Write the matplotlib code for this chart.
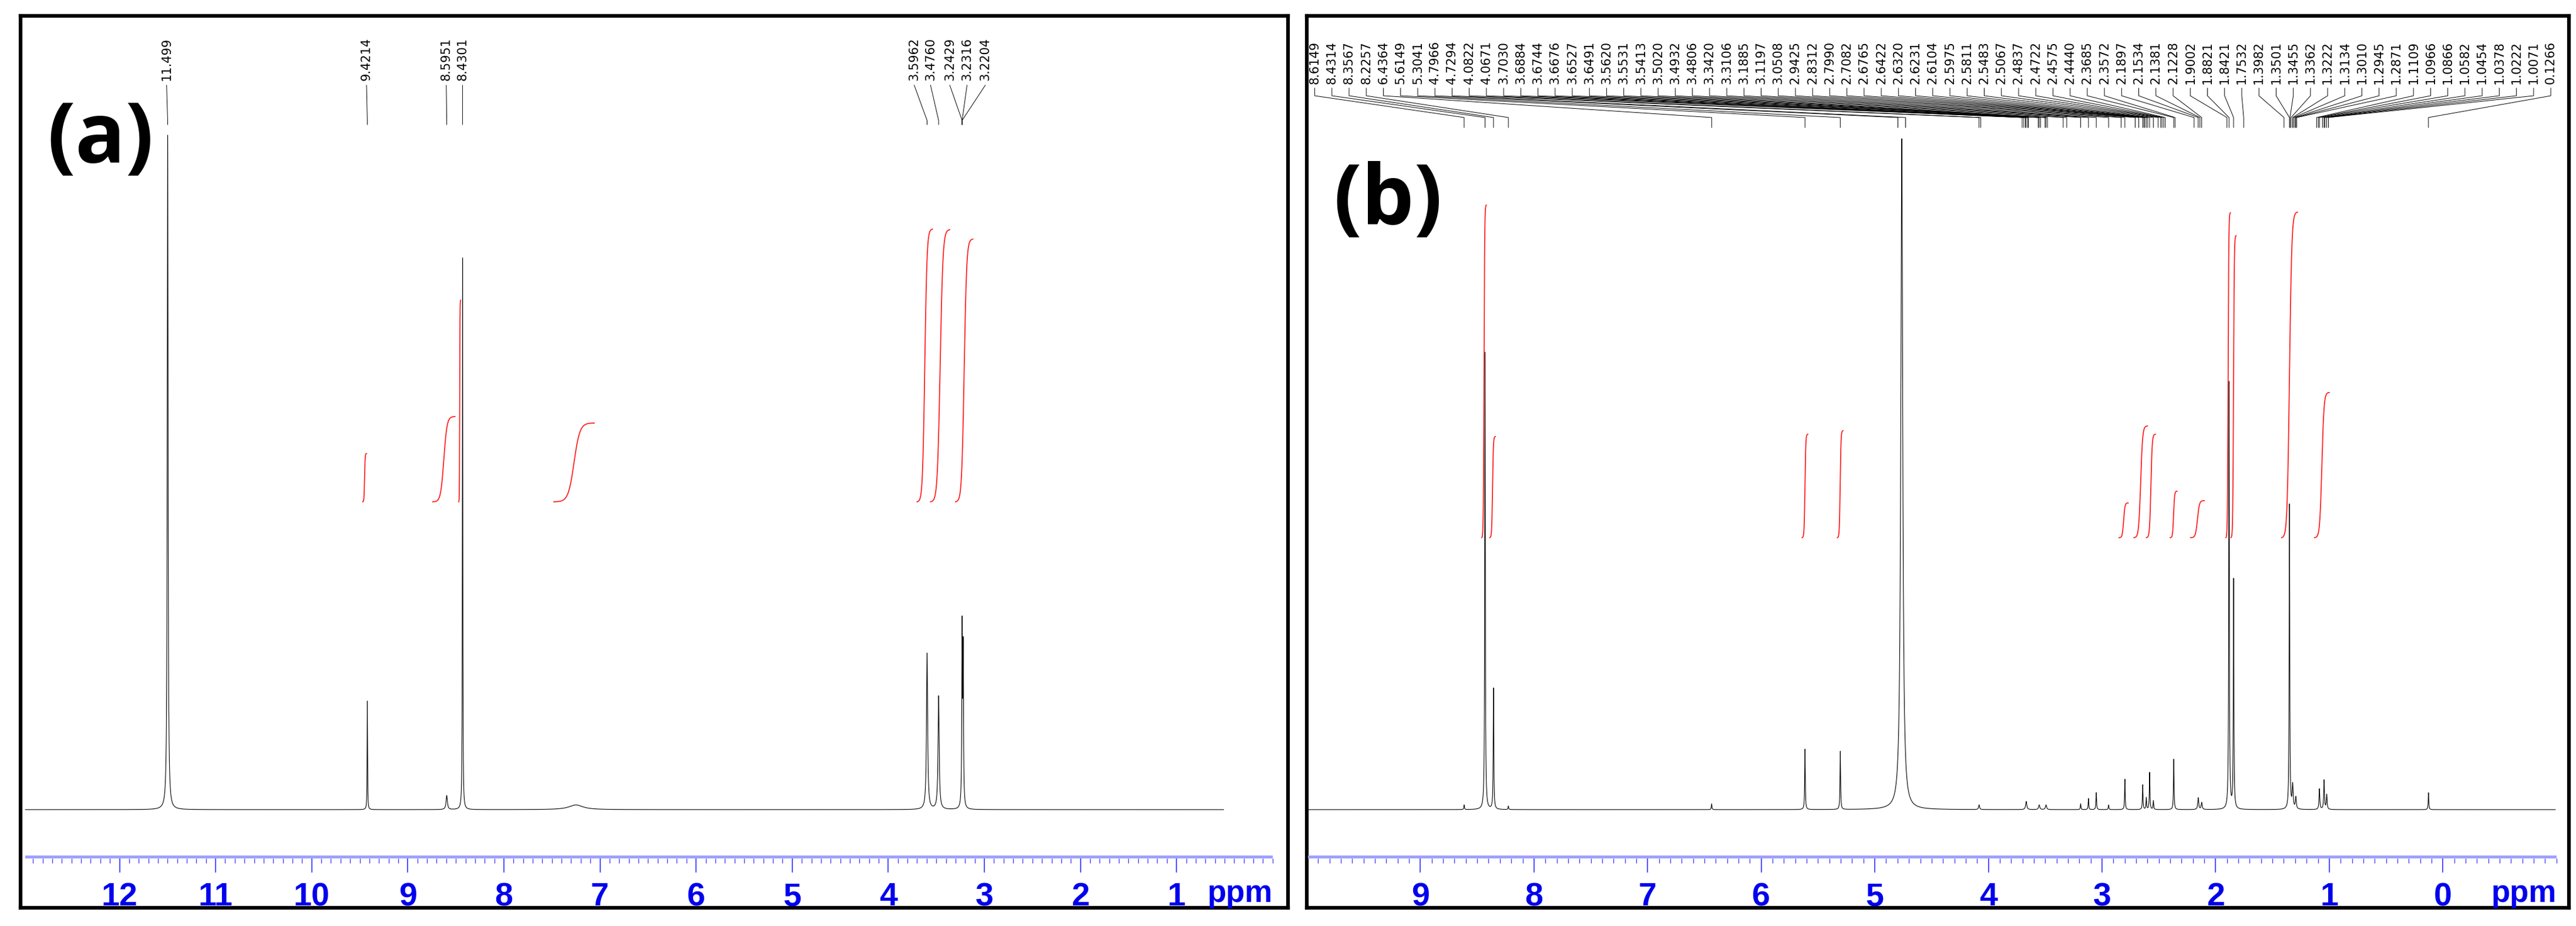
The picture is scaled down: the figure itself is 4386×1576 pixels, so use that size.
import numpy as np
import matplotlib
matplotlib.use("Agg")
import matplotlib.pyplot as plt
from matplotlib.ticker import FixedLocator, NullLocator

W, H = 4386, 1576
DPI = 100

# ---------------- data: panel (a) ----------------
a_peak_ppm = [11.499, 9.4214, 8.5951, 8.4301, 7.25, 3.5962, 3.4760, 3.2316, 3.2204]
a_peak_h   = [1148, 185, 24, 939, 8, 266, 193, 300, 260]
a_peak_w   = [0.005, 0.0025, 0.008, 0.0025, 0.09, 0.007, 0.007, 0.004, 0.004]
a_labels   = ["11.499", "9.4214", "8.5951", "8.4301", "3.5962", "3.4760", "3.2429", "3.2316", "3.2204"]
a_label_peak = [11.499, 9.4214, 8.5951, 8.4301, 3.5962, 3.4760, 3.2316, 3.2316, 3.2316]
a_label_pos  = [11.51, 9.43, 8.60, 8.43, 3.73, 3.56, 3.36, 3.18, 2.99]
a_int_start = [9.47, 8.74, 8.47, 7.48, 3.70, 3.56, 3.30]
a_int_end   = [9.43, 8.51, 8.45, 7.06, 3.54, 3.36, 3.12]
a_int_y0    = [524, 524, 524, 524, 524, 524, 524]
a_int_y1    = [606, 669, 867, 658, 988, 987, 971]

# ---------------- data: panel (b) ----------------
b_peak_ppm = [8.6149, 8.4314, 8.3567, 8.2257, 6.4364, 5.6149, 5.3041, 4.7630, 4.0822,
              3.6676, 3.5531, 3.4932, 3.1885, 3.1197, 3.0508, 2.9425, 2.7990, 2.6422,
              2.6104, 2.5811, 2.5483, 2.3685, 2.1534, 2.1228, 1.8821, 1.8421, 1.3501,
              1.3222, 1.2945, 1.0866, 1.0454, 1.0222, 0.1266]
b_peak_h   = [8, 778, 206, 6, 10, 103, 99, 1142, 8,
              14, 8, 8, 10, 19, 29, 8, 52, 42,
              20, 63, 15, 86, 20, 12, 727, 390, 519,
              40, 20, 35, 50, 25, 29]
b_peak_w   = [0.003, 0.003, 0.003, 0.003, 0.003, 0.003, 0.003, 0.010, 0.005,
              0.006, 0.006, 0.006, 0.003, 0.003, 0.003, 0.003, 0.003, 0.003,
              0.003, 0.003, 0.003, 0.003, 0.005, 0.005, 0.003, 0.003, 0.003,
              0.005, 0.005, 0.004, 0.004, 0.004, 0.003]
b_labels = ["8.6149", "8.4314", "8.3567", "8.2257", "6.4364", "5.6149", "5.3041", "4.7966",
            "4.7294", "4.0822", "4.0671", "3.7030", "3.6884", "3.6744", "3.6676", "3.6527",
            "3.6491", "3.5620", "3.5531", "3.5413", "3.5020", "3.4932", "3.4806", "3.3420",
            "3.3106", "3.1885", "3.1197", "3.0508", "2.9425", "2.8312", "2.7990", "2.7082",
            "2.6765", "2.6422", "2.6320", "2.6231", "2.6104", "2.5975", "2.5811", "2.5483",
            "2.5067", "2.4837", "2.4722", "2.4575", "2.4440", "2.3685", "2.3572", "2.1897",
            "2.1534", "2.1381", "2.1228", "1.9002", "1.8821", "1.8421", "1.7532", "1.3982",
            "1.3501", "1.3455", "1.3362", "1.3222", "1.3134", "1.3010", "1.2945", "1.2871",
            "1.1109", "1.0966", "1.0866", "1.0582", "1.0454", "1.0378", "1.0222", "1.0071",
            "0.1266"]
b_int_start = [8.46, 8.39, 5.64, 5.33, 2.85, 2.72, 2.61, 2.40, 2.22, 1.91, 1.865, 1.42, 1.13]
b_int_end   = [8.42, 8.34, 5.59, 5.28, 2.77, 2.60, 2.53, 2.34, 2.10, 1.87, 1.82, 1.28, 1.00]
b_int_y0    = [463, 463, 463, 463, 463, 463, 463, 463, 463, 463, 463, 463, 463]
b_int_y1    = [1029, 635, 639, 645, 522, 653, 639, 542, 526, 1016, 977, 1017, 710]

fig = plt.figure(figsize=(W / DPI, H / DPI), dpi=DPI)

def px_rect(x0, y0, x1, y1):
    return [x0 / W, 1 - y1 / H, (x1 - x0) / W, (y1 - y0) / H]

def spectrum(x, ppm, h, w):
    y = np.zeros_like(x)
    for p, hh, ww in zip(ppm, h, w):
        y += hh / (1 + ((x - p) / ww) ** 2)
    return y

def scurve(x0, x1, y0, y1):
    t = np.linspace(0, 1, 200)
    s = 0.5 + 0.5 * np.tanh((t - 0.5) * 7) / np.tanh(3.5)
    return x0 + (x1 - x0) * t, y0 + (y1 - y0) * s

RULER_FONT = ["Liberation Sans Narrow", "Liberation Sans", "DejaVu Sans"]

def panel(box, xlim, spec_range, ppm, h, w, ints, labels, label_pos, label_peak,
          letter, letter_xy, ruler_range, ticks, fan):
    x0, y0, x1, y1 = box
    base = 1378
    ax = fig.add_axes(px_rect(x0, y0, x1, y1))
    ax.set_xlim(*xlim)
    ax.set_ylim(-(y1 - base), base - y0)
    for s in ax.spines.values():
        s.set_linewidth(4.5)
        s.set_color("black")
    ax.xaxis.set_major_locator(NullLocator())
    ax.yaxis.set_major_locator(NullLocator())
    xs = np.linspace(spec_range[0], spec_range[1], 80000)
    ax.plot(xs, spectrum(xs, ppm, h, w), color="black", lw=0.8)
    for (s0, s1, iy0, iy1) in ints:
        cx, cy = scurve(s0, s1, iy0, iy1)
        ax.plot(cx, cy, color="#ff2020", lw=1.3)
    for lab, lp, pk in zip(labels, label_pos, label_peak):
        ax.text(lp, base - 143 if fan else base - 137, lab, rotation=90,
                ha="center", va="bottom", fontsize=15, family="DejaVu Sans")
        if fan:
            ax.plot([lp, lp, pk, pk], [base - 150, base - 163, base - 200, base - 217],
                    color="black", lw=0.7)
        else:
            ax.plot([lp, pk, pk], [base - 145, base - 205, base - 212],
                    color="black", lw=0.7)
    ax.text(letter_xy[0], letter_xy[1], letter, transform=None,
            fontsize=102, fontweight="bold", family="Open Sans", ha="left", va="center")
    # ruler
    rax = fig.add_axes(px_rect(x0, 1456, x1, 1461))
    rax.set_xlim(*xlim)
    rax.set_ylim(0, 1)
    rax.patch.set_alpha(0)
    for s in rax.spines.values():
        s.set_visible(False)
    rax.fill_between(ruler_range, 0, 1, color="#a0a0ff", lw=0)
    rax.yaxis.set_major_locator(NullLocator())
    lo, hi = min(ruler_range), max(ruler_range)
    minor = [v for v in np.round(np.arange(np.floor(lo), np.ceil(hi) + 0.01, 0.1), 2)
             if lo - 1e-6 <= v <= hi + 1e-6]
    rax.xaxis.set_major_locator(FixedLocator(ticks))
    rax.xaxis.set_minor_locator(FixedLocator(minor))
    rax.tick_params(axis="x", which="major", direction="out", length=17, width=1.3,
                    color="#4040ff", labelcolor="#0000ee", labelsize=40, pad=12)
    rax.tick_params(axis="x", which="minor", direction="out", length=6, width=1.0,
                    color="#4040ff")
    rax.set_xticklabels([str(t) for t in ticks], fontweight="bold", family=RULER_FONT)
    ax.text(ruler_range[1], -118, "ppm", ha="right", va="top", fontsize=38,
            fontweight="bold", color="#0000ee", family=RULER_FONT)
    return ax

panel((35, 27, 2193, 1545), (13.03, -0.16), (12.98, 0.51),
      a_peak_ppm, a_peak_h, a_peak_w,
      list(zip(a_int_start, a_int_end, a_int_y0, a_int_y1)),
      a_labels, a_label_pos, a_label_peak,
      "(a)", (80, H - 240), (12.98, 0.0), list(range(12, 0, -1)), False)

xb = (10.0, -1.11)
lab_pos_b = list(np.linspace(9.93, -0.95, len(b_labels)))
lab_peak_b = [float(s) for s in b_labels]
panel((2225, 27, 4374, 1545), xb, (9.99, -0.99),
      b_peak_ppm, b_peak_h, b_peak_w,
      list(zip(b_int_start, b_int_end, b_int_y0, b_int_y1)),
      b_labels, lab_pos_b, lab_peak_b,
      "(b)", (2270, H - 345), (9.99, -1.0), list(range(9, -1, -1)), True)

fig.savefig("out.png", dpi=DPI)
